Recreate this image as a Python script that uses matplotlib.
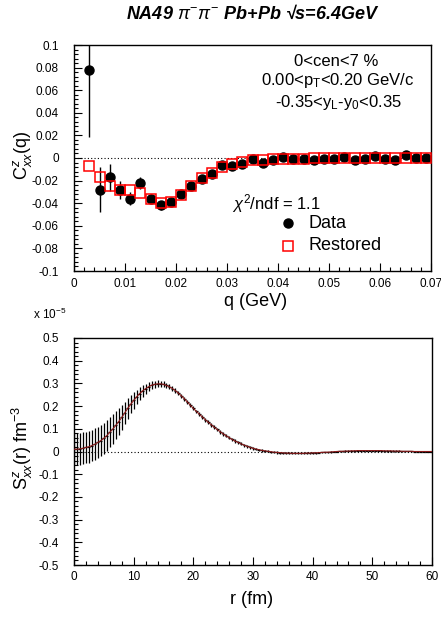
import numpy as np
import matplotlib
matplotlib.use("Agg")
import matplotlib.pyplot as plt
from matplotlib.ticker import MultipleLocator, FuncFormatter
from matplotlib.lines import Line2D

plt.rcParams['font.family'] = ['Liberation Sans', 'DejaVu Sans']
plt.rcParams['axes.unicode_minus'] = False
plt.rcParams['mathtext.fontset'] = 'custom'
plt.rcParams['mathtext.rm'] = 'Liberation Sans'
plt.rcParams['mathtext.it'] = 'Liberation Sans:italic'

# ---------------- data: upper panel ----------------
q = [0.003, 0.005, 0.007, 0.009, 0.011, 0.013, 0.015, 0.017, 0.019, 0.021,
     0.023, 0.025, 0.027, 0.029, 0.031, 0.033, 0.035, 0.037, 0.039, 0.041,
     0.043, 0.045, 0.047, 0.049, 0.051, 0.053, 0.055, 0.057, 0.059, 0.061,
     0.063, 0.065, 0.067, 0.069]
c_data = [0.078, -0.028, -0.017, -0.028, -0.036, -0.022, -0.036, -0.042, -0.039, -0.032,
          -0.025, -0.019, -0.014, -0.006, -0.007, -0.005, -0.001, -0.004, -0.002, 0.001,
          -0.001, -0.001, -0.002, -0.001, -0.001, 0.0005, -0.002, -0.001, 0.002, -0.001,
          -0.002, 0.0027, -0.0003, -0.0003]
c_err = [0.059, 0.020, 0.012, 0.008, 0.006, 0.005, 0.004, 0.004, 0.003, 0.003,
         0.003, 0.003, 0.003, 0.003, 0.002, 0.002, 0.002, 0.002, 0.002, 0.002,
         0.002, 0.002, 0.002, 0.002, 0.002, 0.002, 0.002, 0.002, 0.002, 0.002,
         0.002, 0.002, 0.002, 0.002]
c_rest = [-0.007, -0.017, -0.025, -0.028, -0.0285, -0.031, -0.036, -0.0395, -0.0385, -0.033,
          -0.025, -0.018, -0.0135, -0.008, -0.0055, -0.0035, -0.002, -0.0015, -0.001, -0.0008,
          -0.0006, -0.0005, -0.0004, -0.0003, -0.0003, -0.0002, -0.0002, -0.0002, -0.0001, -0.0001,
          -0.0001, -0.0001, 0.0, 0.0]

# ---------------- data: lower panel (units of 1e-5 fm^-3) ----------------
r = [i * 0.5 for i in range(121)]
s_val = [0.010, 0.010, 0.012, 0.014, 0.018, 0.021, 0.026, 0.032, 0.040, 0.048,
         0.058, 0.070, 0.085, 0.099, 0.115, 0.132, 0.150, 0.170, 0.190, 0.208,
         0.225, 0.241, 0.255, 0.267, 0.277, 0.285, 0.292, 0.296, 0.298, 0.298,
         0.296, 0.291, 0.285, 0.277, 0.268, 0.257, 0.245, 0.232, 0.218, 0.204,
         0.190, 0.177, 0.165, 0.152, 0.140, 0.129, 0.118, 0.107, 0.097, 0.087,
         0.078, 0.069, 0.061, 0.053, 0.046, 0.040, 0.034, 0.028, 0.023, 0.018,
         0.014, 0.011, 0.008, 0.005, 0.003, 0.001, -0.001, -0.003, -0.004, -0.005,
         -0.006, -0.007, -0.007, -0.008, -0.008, -0.008, -0.008, -0.008, -0.007, -0.007,
         -0.006, -0.006, -0.005, -0.004, -0.003, -0.003, -0.002, -0.001, 0.000, 0.001,
         0.001, 0.002, 0.002, 0.003, 0.003, 0.004, 0.004, 0.004, 0.004, 0.004,
         0.004, 0.004, 0.004, 0.004, 0.003, 0.003, 0.003, 0.002, 0.002, 0.002,
         0.001, 0.001, 0.001, 0.001, 0.000, 0.000, 0.000, 0.000, 0.000, 0.000,
         0.000]
s_err = [0.070, 0.070, 0.070, 0.070, 0.070, 0.070, 0.070, 0.070, 0.070, 0.070,
         0.068, 0.068, 0.066, 0.064, 0.062, 0.058, 0.054, 0.050, 0.045, 0.040,
         0.036, 0.032, 0.028, 0.025, 0.022, 0.020, 0.018, 0.016, 0.015, 0.014,
         0.013, 0.012, 0.011, 0.010, 0.010, 0.009, 0.009, 0.009, 0.009, 0.009,
         0.009, 0.008, 0.008, 0.008, 0.008, 0.008, 0.008, 0.008, 0.008, 0.008,
         0.008, 0.007, 0.007, 0.007, 0.007, 0.007, 0.007, 0.007, 0.007, 0.007,
         0.007, 0.005, 0.005, 0.005, 0.005, 0.005, 0.005, 0.005, 0.005, 0.005,
         0.005, 0.004, 0.004, 0.004, 0.004, 0.004, 0.004, 0.004, 0.004, 0.004,
         0.004, 0.003, 0.003, 0.003, 0.003, 0.003, 0.003, 0.003, 0.003, 0.003,
         0.003, 0.003, 0.003, 0.003, 0.003, 0.003, 0.003, 0.003, 0.003, 0.003,
         0.003, 0.003, 0.003, 0.003, 0.003, 0.003, 0.003, 0.003, 0.003, 0.003,
         0.003, 0.003, 0.003, 0.003, 0.003, 0.003, 0.003, 0.003, 0.003, 0.003,
         0.003]

W, H = 441, 619
fig = plt.figure(figsize=(W / 100, H / 100), dpi=100)

def fmt(v, pos):
    s = ('%.3f' % v).rstrip('0').rstrip('.')
    if s in ('-0', ''):
        s = '0'
    return s

def style(ax):
    ax.tick_params(which='both', direction='in', top=False, right=False, labelsize=8.5)
    ax.tick_params(which='major', length=6, width=0.8)
    ax.tick_params(which='minor', length=3, width=0.8)
    for sp in ax.spines.values():
        sp.set_linewidth(1.0)
    ax.xaxis.set_major_formatter(FuncFormatter(fmt))
    ax.yaxis.set_major_formatter(FuncFormatter(fmt))

# ---------- upper panel ----------
ax1 = fig.add_axes([74 / W, 1 - 271 / H, (431 - 74) / W, (271 - 45) / H])
ax1.set_xlim(0, 0.07)
ax1.set_ylim(-0.1, 0.1)
ax1.axhline(0, color='black', lw=0.8, ls=(0, (1, 2)))
ax1.errorbar(q, c_data, yerr=c_err, fmt='o', color='black', ms=6.5, elinewidth=1.0, capsize=0, zorder=3)
ax1.plot(q, c_rest, 's', mfc='none', mec='red', ms=7, mew=1.1, zorder=4)
ax1.xaxis.set_major_locator(MultipleLocator(0.01))
ax1.xaxis.set_minor_locator(MultipleLocator(0.002))
ax1.yaxis.set_major_locator(MultipleLocator(0.02))
ax1.yaxis.set_minor_locator(MultipleLocator(0.004))
style(ax1)
ax1.tick_params(axis='y', pad=11)
ax1.tick_params(axis='x', pad=5)

fig.text(336 / W, 1 - 61 / H, '0<cen<7 %', ha='center', va='center', fontsize=12)
fig.text(338 / W, 1 - 81 / H, r'0.00<p$_\mathrm{T}$<0.20 GeV/c', ha='center', va='center', fontsize=12)
fig.text(338 / W, 1 - 102 / H, r'-0.35<y$_\mathrm{L}$-y$_\mathrm{0}$<0.35', ha='center', va='center', fontsize=12)
fig.text(232 / W, 1 - 204 / H, r'$\chi^{2}$/ndf = 1.1', ha='left', va='center', fontsize=12)

fig.add_artist(Line2D([288 / W], [1 - 223 / H], marker='o', color='black', ms=6.5, ls='none',
                      transform=fig.transFigure))
fig.add_artist(Line2D([288 / W], [1 - 246 / H], marker='s', mfc='none', mec='red', ms=7, mew=1.1,
                      ls='none', transform=fig.transFigure))
fig.text(308 / W, 1 - 223 / H, 'Data', ha='left', va='center', fontsize=13)
fig.text(308 / W, 1 - 246 / H, 'Restored', ha='left', va='center', fontsize=13)

fig.text(256 / W, 1 - 302 / H, 'q (GeV)', ha='center', va='center', fontsize=13)
fig.text(22 / W, 1 - 155 / H, r'C$^{z}_{xx}$(q)', ha='center', va='center', fontsize=13, rotation=90)

# ---------- lower panel ----------
ax2 = fig.add_axes([74 / W, 1 - 565 / H, (432 - 74) / W, (565 - 338) / H])
ax2.set_xlim(0, 60)
ax2.set_ylim(-0.5, 0.5)
ax2.axhline(0, color='black', lw=0.8, ls=(0, (1, 2)))
ax2.errorbar(r, s_val, yerr=s_err, xerr=0.25, fmt='none', ecolor='black', elinewidth=0.9, capsize=0, zorder=3)
ax2.plot(r, s_val, color='#8b1a1a', lw=0.8, zorder=4)
ax2.xaxis.set_major_locator(MultipleLocator(10))
ax2.xaxis.set_minor_locator(MultipleLocator(2))
ax2.yaxis.set_major_locator(MultipleLocator(0.1))
ax2.yaxis.set_minor_locator(MultipleLocator(0.02))
style(ax2)
ax2.tick_params(axis='y', pad=11)
ax2.tick_params(axis='x', pad=4)

fig.text(33 / W, 1 - 314 / H, r'x 10$^{-5}$', ha='left', va='center', fontsize=8.5)
fig.text(252 / W, 1 - 600 / H, 'r (fm)', ha='center', va='center', fontsize=13)
fig.text(22 / W, 1 - 448 / H, r'S$^{z}_{xx}$(r) fm$^{-3}$', ha='center', va='center', fontsize=13, rotation=90)

# ---------- title ----------
fig.text(253 / W, 1 - 14 / H, 'NA49 $\\pi^{-}\\pi^{-}$ Pb+Pb \u221as=6.4GeV', ha='center', va='center',
         fontsize=13, fontweight='bold', style='italic')

fig.savefig('out.png', dpi=100)
